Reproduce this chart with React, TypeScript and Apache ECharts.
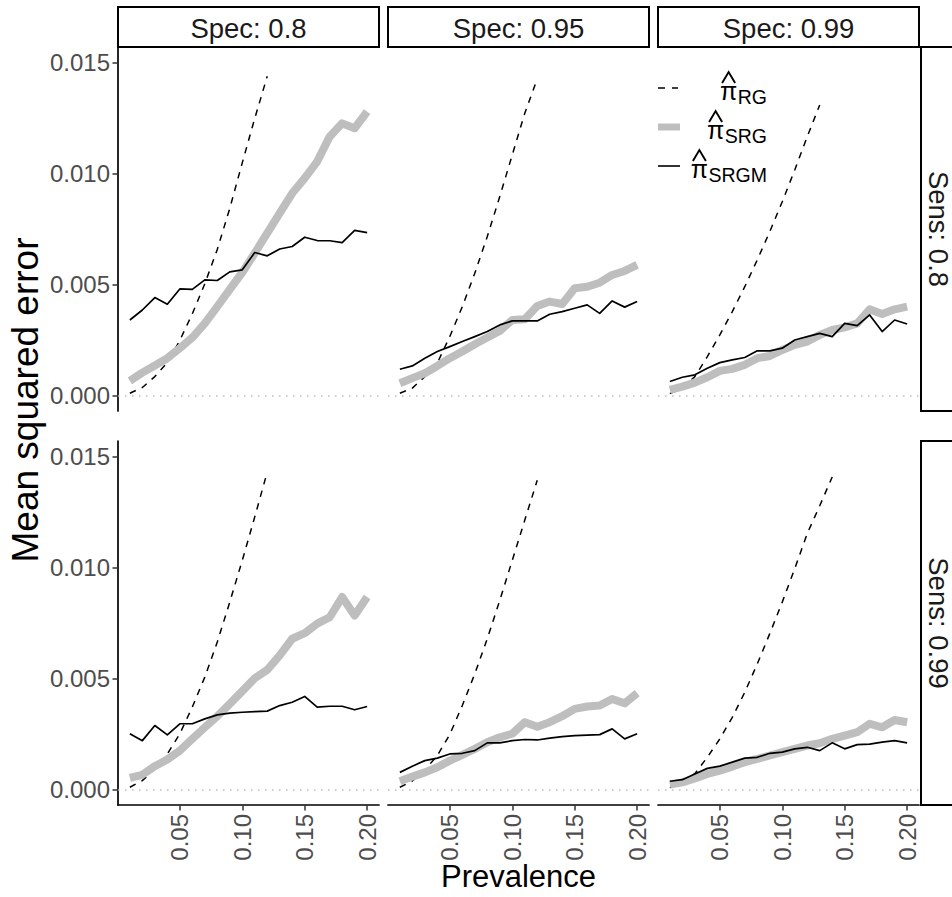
import React, { useEffect, useRef } from "react";
import * as echarts from "echarts";

// ---------- data ----------
const prevalence = [0.01, 0.02, 0.03, 0.04, 0.05, 0.06, 0.07, 0.08, 0.09, 0.1, 0.11, 0.12, 0.13, 0.14, 0.15, 0.16, 0.17, 0.18, 0.19, 0.2];
const specLabels = ["Spec: 0.8", "Spec: 0.95", "Spec: 0.99"];
const sensLabels = ["Sens: 0.8", "Sens: 0.99"];
const xTicks = [0.05, 0.1, 0.15, 0.2];
const yTicks = [0, 0.005, 0.01, 0.015];
const legendSubscripts = ["RG", "SRG", "SRGM"];

// Sens 0.8
const rgSens80Spec80 = [0.00012, 0.00038, 0.00087, 0.0015, 0.0025, 0.0037, 0.00505, 0.0066, 0.00845, 0.0105, 0.0125, 0.0144];
const srgSens80Spec80 = [0.00068, 0.00105, 0.00137, 0.0017, 0.00215, 0.00263, 0.00327, 0.00402, 0.0048, 0.00556, 0.00643, 0.00733, 0.00823, 0.00913, 0.00981, 0.01056, 0.01168, 0.01228, 0.01206, 0.01281];
const srgmSens80Spec80 = [0.00342, 0.00387, 0.00443, 0.00413, 0.00482, 0.0048, 0.00523, 0.0052, 0.00559, 0.00568, 0.00646, 0.00631, 0.00662, 0.00673, 0.00715, 0.007, 0.00699, 0.00691, 0.00746, 0.00736];

const rgSens80Spec95 = [0.00012, 0.00035, 0.00087, 0.00148, 0.00268, 0.00402, 0.00553, 0.00718, 0.00898, 0.01086, 0.01273, 0.01428];
const srgSens80Spec95 = [0.00057, 0.0008, 0.00102, 0.00135, 0.0017, 0.002, 0.00233, 0.00263, 0.00293, 0.00342, 0.00345, 0.00405, 0.00425, 0.00414, 0.00485, 0.00492, 0.0051, 0.00545, 0.00563, 0.0059];
const srgmSens80Spec95 = [0.0012, 0.00135, 0.0017, 0.002, 0.00222, 0.00245, 0.00267, 0.0029, 0.0032, 0.00338, 0.00338, 0.00338, 0.00368, 0.0038, 0.00395, 0.0041, 0.00372, 0.00428, 0.004, 0.00425];

const rgSens80Spec99 = [0.0001, 0.00035, 0.00087, 0.00177, 0.00275, 0.0038, 0.00492, 0.00613, 0.0074, 0.00875, 0.01018, 0.01168, 0.01311];
const srgSens80Spec99 = [0.00027, 0.00042, 0.0006, 0.00084, 0.00113, 0.00122, 0.0014, 0.0017, 0.0018, 0.00207, 0.0023, 0.00245, 0.00275, 0.00297, 0.00309, 0.00327, 0.0039, 0.00369, 0.0039, 0.00402];
const srgmSens80Spec99 = [0.00065, 0.00084, 0.00095, 0.00125, 0.0015, 0.00162, 0.00173, 0.00203, 0.00203, 0.00215, 0.00252, 0.00267, 0.00282, 0.00267, 0.00327, 0.00317, 0.00365, 0.0029, 0.00342, 0.00324];

// Sens 0.99
const rgSens99Spec80 = [0.00012, 0.00042, 0.00095, 0.00162, 0.00253, 0.00373, 0.00508, 0.00666, 0.00846, 0.01034, 0.0123, 0.01432];
const srgSens99Spec80 = [0.00054, 0.00068, 0.00107, 0.00137, 0.00177, 0.0023, 0.00282, 0.00332, 0.00388, 0.00445, 0.00503, 0.00541, 0.00606, 0.00681, 0.00706, 0.00749, 0.00778, 0.00869, 0.00786, 0.00869];
const srgmSens99Spec80 = [0.00253, 0.00222, 0.0029, 0.00248, 0.00298, 0.00298, 0.0032, 0.00338, 0.00346, 0.0035, 0.00353, 0.00355, 0.0038, 0.00395, 0.00421, 0.00373, 0.00377, 0.00377, 0.00361, 0.00376];

const rgSens99Spec95 = [0.00012, 0.0004, 0.0009, 0.00155, 0.0025, 0.0038, 0.00523, 0.00681, 0.00854, 0.01034, 0.01215, 0.01395];
const srgSens99Spec95 = [0.00039, 0.0006, 0.00079, 0.00102, 0.00132, 0.00158, 0.00185, 0.00215, 0.00237, 0.00253, 0.00305, 0.00285, 0.00305, 0.00332, 0.00365, 0.00376, 0.0038, 0.0041, 0.0039, 0.00436];
const srgmSens99Spec95 = [0.00079, 0.00107, 0.00132, 0.00143, 0.00162, 0.00165, 0.00177, 0.00212, 0.00212, 0.00222, 0.00227, 0.00225, 0.00233, 0.0024, 0.00245, 0.00247, 0.00249, 0.00275, 0.0023, 0.00253];

const rgSens99Spec99 = [0.0001, 0.00035, 0.00073, 0.00147, 0.0023, 0.00327, 0.0044, 0.00568, 0.00704, 0.00846, 0.00997, 0.01155, 0.0128, 0.0141];
const srgSens99Spec99 = [0.00024, 0.00034, 0.00052, 0.00072, 0.00087, 0.00105, 0.00125, 0.0014, 0.00155, 0.0017, 0.00185, 0.002, 0.0021, 0.0023, 0.00245, 0.0026, 0.00298, 0.00282, 0.00315, 0.00305];
const srgmSens99Spec99 = [0.00039, 0.00046, 0.00072, 0.00097, 0.00107, 0.00125, 0.00143, 0.00147, 0.00165, 0.0017, 0.00185, 0.00192, 0.00177, 0.00212, 0.00185, 0.00204, 0.00206, 0.00215, 0.00222, 0.00212];

const rgRows = [
  [rgSens80Spec80, rgSens80Spec95, rgSens80Spec99],
  [rgSens99Spec80, rgSens99Spec95, rgSens99Spec99],
];
const srgRows = [
  [srgSens80Spec80, srgSens80Spec95, srgSens80Spec99],
  [srgSens99Spec80, srgSens99Spec95, srgSens99Spec99],
];
const srgmRows = [
  [srgmSens80Spec80, srgmSens80Spec95, srgmSens80Spec99],
  [srgmSens99Spec80, srgmSens99Spec95, srgmSens99Spec99],
];

// ---------- layout ----------
const PANEL_LEFT = [118, 388, 658];
const PANEL_W = 261;
const ROW_TOP = [47, 441];
const ROW_H = 364;
const X_MIN = 0.0005;
const X_MAX = 0.2095;
const Y_MIN = -0.00068;
const Y_MAX = 0.01572;
const FONT = "'Liberation Sans', Arial, Helvetica, sans-serif";
const GREY = "#BEBEBE";

function pairs(vals: number[]) {
  return vals.map((v, i) => [prevalence[i], v]);
}

function measure(text: string, font: string) {
  const c = document.createElement("canvas").getContext("2d");
  if (!c) return text.length * 10;
  c.font = font;
  return c.measureText(text).width;
}

function textEl(text: string, x: number, y: number, size: number, fill: string, rotation = 0, align = "center") {
  return {
    type: "text",
    x,
    y,
    rotation,
    silent: true,
    style: {
      text,
      fill,
      fontSize: size,
      fontFamily: FONT,
      align,
      textAlign: align,
      verticalAlign: "middle",
      textVerticalAlign: "middle",
    },
  };
}

export default function App() {
  const ref = useRef<HTMLDivElement>(null);

  useEffect(() => {
    if (!ref.current) return;
    const chart = echarts.init(ref.current, undefined, { renderer: "svg" });

    const grids: any[] = [];
    const xAxes: any[] = [];
    const yAxes: any[] = [];
    const series: any[] = [];

    for (let r = 0; r < 2; r++) {
      for (let c = 0; c < 3; c++) {
        const idx = r * 3 + c;
        grids.push({
          left: PANEL_LEFT[c],
          top: ROW_TOP[r],
          width: PANEL_W,
          height: ROW_H,
          containLabel: false,
          outerBoundsMode: "none",
        });
        const showX = r === 1;
        xAxes.push({
          gridIndex: idx,
          type: "value",
          min: X_MIN,
          max: X_MAX,
          axisLine: { show: showX, onZero: false, lineStyle: { color: "#000", width: 1.7 } },
          axisTick: { show: showX, length: 5.5, customValues: xTicks, lineStyle: { color: "#333", width: 1.5 } },
          axisLabel: {
            show: showX,
            customValues: xTicks,
            rotate: 90,
            margin: 9,
            fontSize: 24,
            fontFamily: FONT,
            color: "#4D4D4D",
            formatter: (v: number) => v.toFixed(2),
          },
          splitLine: { show: false },
        });
        const showY = c === 0;
        yAxes.push({
          gridIndex: idx,
          type: "value",
          min: Y_MIN,
          max: Y_MAX,
          axisLine: { show: showY, onZero: false, lineStyle: { color: "#000", width: 1.7 } },
          axisTick: { show: showY, length: 5.5, customValues: yTicks, lineStyle: { color: "#333", width: 1.5 } },
          axisLabel: {
            show: showY,
            customValues: yTicks,
            margin: 8,
            fontSize: 24,
            fontFamily: FONT,
            color: "#4D4D4D",
            formatter: (v: number) => v.toFixed(3),
          },
          splitLine: { show: false },
        });

        series.push({
          type: "line",
          xAxisIndex: idx,
          yAxisIndex: idx,
          data: [[X_MIN, 0], [X_MAX, 0]],
          showSymbol: false,
          symbol: "none",
          silent: true,
          z: 1,
          lineStyle: { color: GREY, width: 1.5, type: [1.5, 5.5] },
        });
        series.push({
          name: "RG",
          type: "line",
          xAxisIndex: idx,
          yAxisIndex: idx,
          data: pairs(rgRows[r][c]),
          showSymbol: false,
          symbol: "none",
          z: 2,
          lineStyle: { color: "#000", width: 1.5, type: [6.5, 6.5] },
        });
        series.push({
          name: "SRG",
          type: "line",
          xAxisIndex: idx,
          yAxisIndex: idx,
          data: pairs(srgRows[r][c]),
          showSymbol: false,
          symbol: "none",
          z: 3,
          lineStyle: { color: GREY, width: 8, join: "round", cap: "butt" },
        });
        series.push({
          name: "SRGM",
          type: "line",
          xAxisIndex: idx,
          yAxisIndex: idx,
          data: pairs(srgmRows[r][c]),
          showSymbol: false,
          symbol: "none",
          z: 4,
          lineStyle: { color: "#000", width: 1.7, join: "round" },
        });
      }
    }

    const graphics: any[] = [];
    // top strips
    for (let c = 0; c < 3; c++) {
      graphics.push({
        type: "rect",
        silent: true,
        shape: { x: PANEL_LEFT[c], y: 7, width: PANEL_W, height: 40 },
        style: { fill: "#fff", stroke: "#000", lineWidth: 2 },
      });
      graphics.push(textEl(specLabels[c], PANEL_LEFT[c] + PANEL_W / 2, 28, 27.5, "#1A1A1A"));
    }
    // right strips
    for (let r = 0; r < 2; r++) {
      graphics.push({
        type: "rect",
        silent: true,
        shape: { x: 921, y: ROW_TOP[r], width: 50, height: ROW_H },
        style: { fill: "#fff", stroke: "#000", lineWidth: 2 },
      });
      graphics.push(textEl(sensLabels[r], 938, ROW_TOP[r] + ROW_H / 2, 27.5, "#1A1A1A", -Math.PI / 2));
    }
    // axis titles
    graphics.push(textEl("Mean squared error", 25, 400, 37, "#000", Math.PI / 2));
    graphics.push(textEl("Prevalence", 518.5, 876, 31, "#000"));

    // legend
    const keyY = [88, 127, 166];
    const baseY = [100, 139, 178];
    const rightX = 767;
    graphics.push({
      type: "line",
      silent: true,
      shape: { x1: 658, y1: keyY[0], x2: 678, y2: keyY[0] },
      style: { stroke: "#000", lineWidth: 1.5, lineDash: [7, 7] },
    });
    graphics.push({
      type: "line",
      silent: true,
      shape: { x1: 658, y1: keyY[1], x2: 680, y2: keyY[1] },
      style: { stroke: GREY, lineWidth: 7 },
    });
    graphics.push({
      type: "line",
      silent: true,
      shape: { x1: 658, y1: keyY[2], x2: 680, y2: keyY[2] },
      style: { stroke: "#000", lineWidth: 1.6 },
    });
    const piW = measure("π", `25px ${FONT}`);
    legendSubscripts.forEach((sub, i) => {
      const subW = measure(sub, `19.5px ${FONT}`);
      const B = baseY[i];
      const piRight = rightX - subW - 0.5;
      const cx = piRight - piW / 2;
      graphics.push(textEl(sub, rightX, B + 3.5 - 6.8, 19.5, "#000", 0, "right"));
      graphics.push(textEl("π", piRight, B - 8.6, 25, "#000", 0, "right"));
      graphics.push({
        type: "polyline",
        silent: true,
        shape: { points: [[cx - 6.5, B - 17], [cx, B - 28], [cx + 6.5, B - 17]] },
        style: { stroke: "#000", lineWidth: 1.9, fill: null },
      });
    });

    chart.setOption({
      animation: false,
      backgroundColor: "#fff",
      grid: grids,
      xAxis: xAxes,
      yAxis: yAxes,
      series,
      graphic: { elements: graphics },
    });

    return () => chart.dispose();
  }, []);

  return (
    <div
      ref={ref}
      style={{ position: "fixed", left: 0, top: 0, width: 952, height: 897, background: "#fff" }}
    />
  );
}
